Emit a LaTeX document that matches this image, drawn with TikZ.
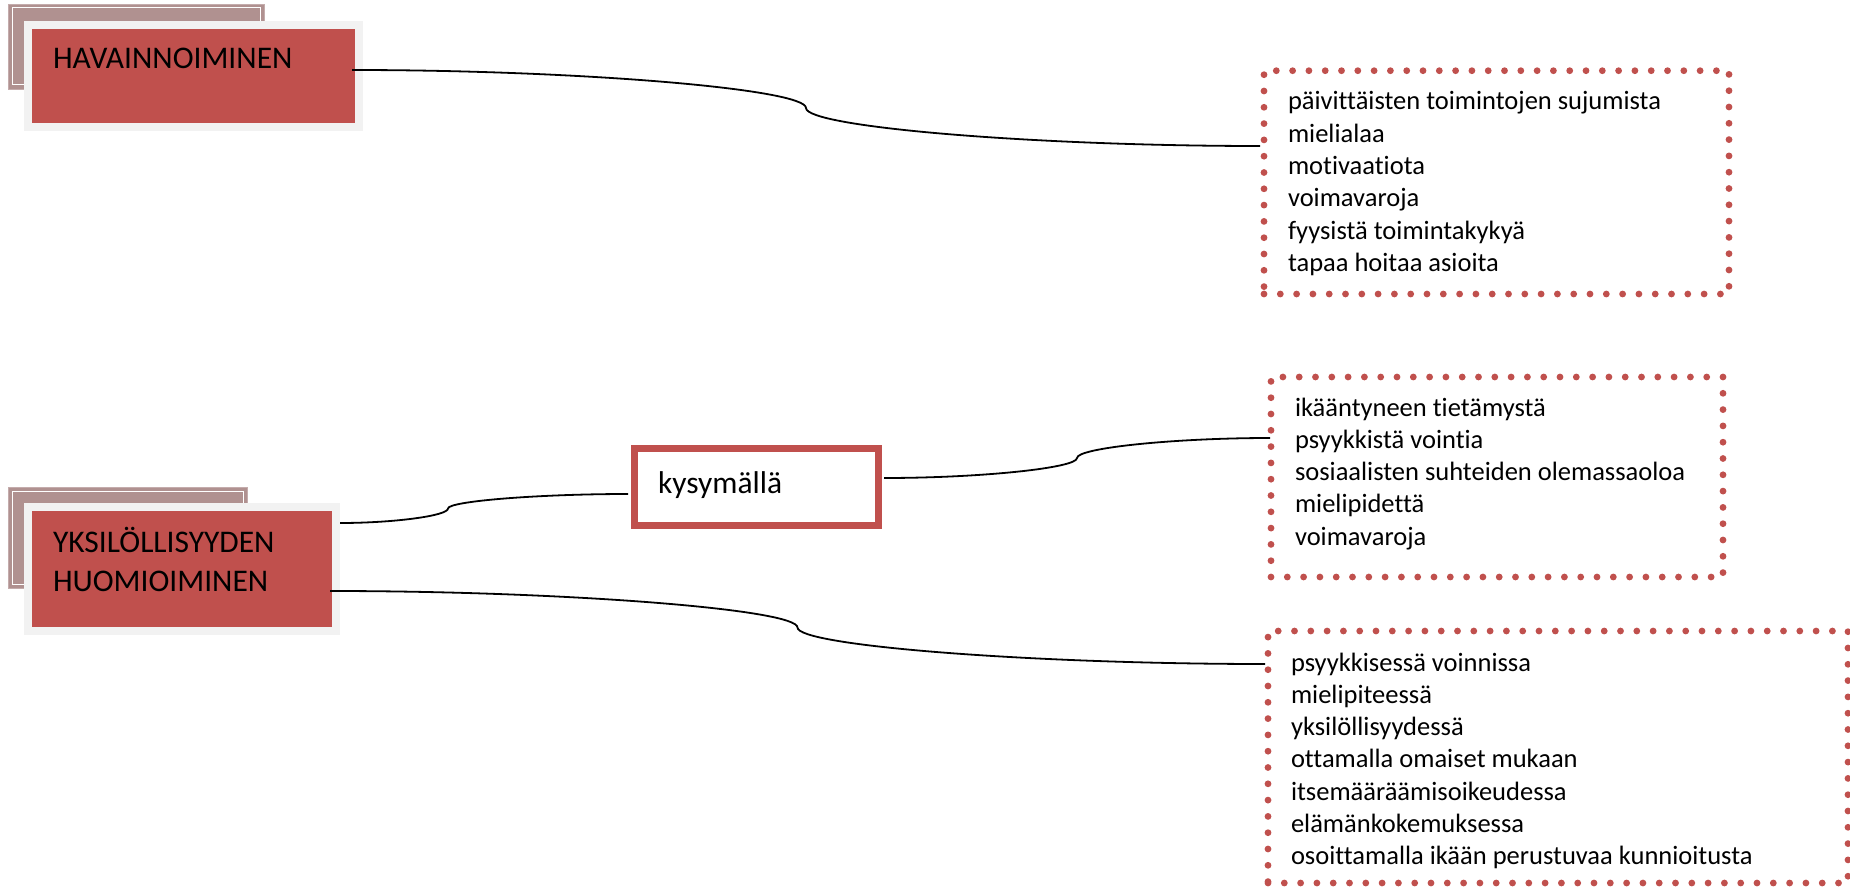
\documentclass[tikz,border=0pt]{standalone}
\usepackage{fontspec}
\setmainfont{Carlito}[Ligatures=NoCommon]
\usetikzlibrary{calc}
\definecolor{accent}{HTML}{C0504D}
\definecolor{shade}{HTML}{B09190}
\definecolor{framegray}{HTML}{F2F2F2}
\begin{document}
\begin{tikzpicture}[x=1pt,y=-1pt,
  every node/.style={outer sep=0pt},
  backbox/.style={fill=shade, draw=shade!75!white, line width=0.8pt, inner sep=0pt},
  framebox/.style={fill=framegray, inner sep=0pt},
  redbox/.style={fill=accent, inner sep=0pt},
  headtext/.style={inner sep=0pt, anchor=base west, font=\fontsize{31.5}{39}\selectfont},
  listbox/.style={draw=accent, line width=6.8pt, line cap=round, dash pattern=on 0pt off 16.3pt, inner sep=0pt},
  listtext/.style={inner sep=0pt, anchor=base west, font=\fontsize{26.5}{32.3}\selectfont},
  querybox/.style={draw=accent, fill=white, line width=7pt, inner sep=0pt},
  % curved elbow connector; the argument is where the bend sits between the ends
  link/.default=0.5,
  link/.style={draw=black, line width=1.8pt,
    to path={let \p1=(\tikztostart), \p2=(\tikztotarget),
                 \n1={\x1+#1*(\x2-\x1)} in
      .. controls ({0.5*\x1+0.5*\n1},\y1) and (\n1,{0.75*\y1+0.25*\y2})
      .. (\n1,{0.5*\y1+0.5*\y2})
      .. controls (\n1,{0.25*\y1+0.75*\y2}) and ({0.5*\n1+0.5*\x2},\y2)
      .. (\tikztotarget) \tikztonodes}}
]
\useasboundingbox (0,0) rectangle (1850,888);

% --- HAVAINNOIMINEN ---
\node[backbox, minimum width=256pt, minimum height=85pt] (havb) at (136,46.5) {};
\draw[white, line width=1pt] ([shift={(4,4)}]havb.north west) rectangle ([shift={(-4,-4)}]havb.south east);
\node[framebox, minimum width=339pt, minimum height=110pt] (havf) at (193.5,76) {};
\node[redbox, minimum width=323pt, minimum height=94pt] (hav) at (193.5,76) {};
\node[headtext] (havtxt) at (53,69) {HAVAINNOIMINEN};

% --- YKSILÖLLISYYDEN HUOMIOIMINEN ---
\node[backbox, minimum width=239pt, minimum height=101pt] (yksb) at (127.5,537.5) {};
\draw[white, line width=1pt] ([shift={(4,4)}]yksb.north west) rectangle ([shift={(-4,-4)}]yksb.south east);
\node[framebox, minimum width=316pt, minimum height=132pt] (yksf) at (182,569) {};
\node[redbox, minimum width=300pt, minimum height=116pt] (yks) at (182,569) {};
\node[headtext] (ykstxt) at (53,552) {\begin{tabular}[t]{@{}l@{}}YKSILÖLLISYYDEN\\HUOMIOIMINEN\end{tabular}};

% --- kysymällä ---
\node[querybox, minimum width=244pt, minimum height=77pt] (kys) at (756.5,487) {};
\node[headtext] (kystxt) at (658,493) {kysymällä};

% --- dotted lists ---
\node[listbox, minimum width=465pt, minimum height=223.3pt] (list1) at (1496.5,182.35) {};
\node[listtext] (list1txt) at (1288,110) {\begin{tabular}[t]{@{}l@{}}
päivittäisten toimintojen sujumista\\
mielialaa\\
motivaatiota\\
voimavaroja\\
fyysistä toimintakykyä\\
tapaa hoitaa asioita\end{tabular}};

\node[listbox, minimum width=452pt, minimum height=200pt] (list2) at (1497,477) {};
\node[listtext] (list2txt) at (1295,416) {\begin{tabular}[t]{@{}l@{}}
ikääntyneen tietämystä\\
psyykkistä vointia\\
sosiaalisten suhteiden olemassaoloa\\
mielipidettä\\
voimavaroja\end{tabular}};

\node[listbox, minimum width=580pt, minimum height=252pt] (list3) at (1558,757) {};
\node[listtext] (list3txt) at (1291,671) {\begin{tabular}[t]{@{}l@{}}
psyykkisessä voinnissa\\
mielipiteessä\\
yksilöllisyydessä\\
ottamalla omaiset mukaan\\
itsemääräämisoikeudessa\\
elämänkokemuksessa\\
osoittamalla ikään perustuvaa kunnioitusta\end{tabular}};

% --- connectors ---
\draw[link] ($(hav.east)+(-3,-6)$) to ($(list1.west)+(-4,-36.35)$);
\draw[link=0.375] ($(yksf.east)+(0,-46)$) to ($(kys.west)+(-6.5,7)$);
\draw[link] ($(kys.east)+(5.5,-9)$) to ($(list2.west)+(-1,-39)$);
\draw[link] ($(yks.east)+(-2,22)$) to ($(list3.west)+(-3,-93)$);
\end{tikzpicture}
\end{document}
